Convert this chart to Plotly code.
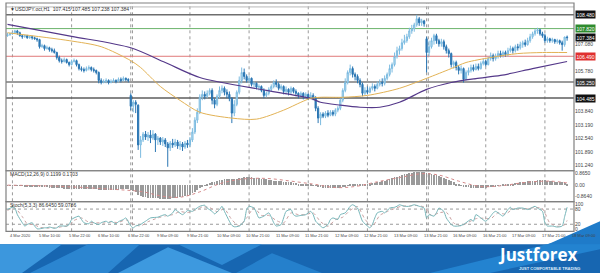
import plotly.graph_objects as go

W, H = 600, 274

# ---------------- data (USDJPY H1) ----------------
bar_index = list(range(228))

opens = [107.48,107.52,107.57,107.62,107.71,107.62,107.48,107.43,107.48,107.38,
107.43,107.38,107.33,107.29,106.95,107.00,106.86,106.90,106.81,106.76,
106.67,106.43,106.28,106.24,106.33,106.19,106.09,106.24,106.28,106.09,
105.90,105.85,105.81,105.90,105.95,105.85,105.81,105.71,105.33,105.23,
105.28,105.33,105.23,105.28,105.33,105.28,105.38,105.33,105.43,105.38,
104.61,104.09,104.28,104.14,102.23,102.47,102.75,102.61,102.71,102.56,
102.75,102.47,102.56,102.37,102.47,102.28,102.09,102.32,102.23,102.37,
102.18,102.28,102.13,102.32,102.23,102.47,102.85,103.42,103.80,104.52,
104.66,104.57,104.71,104.85,104.38,104.18,104.57,104.85,104.95,104.76,
104.66,104.47,103.76,104.18,104.76,105.33,105.71,105.52,105.33,105.43,
105.14,105.19,105.00,105.04,104.85,104.61,104.71,104.90,105.04,105.23,
105.14,104.95,105.04,104.80,104.90,104.76,104.95,104.80,104.71,104.61,
104.71,104.57,104.66,104.52,104.61,104.47,103.99,103.52,103.71,103.61,
103.76,103.66,103.80,103.71,103.90,103.99,104.38,104.85,105.23,105.71,
105.90,105.62,105.52,105.33,105.14,104.71,104.85,104.76,104.95,105.04,
104.95,105.14,105.23,105.19,105.43,105.62,105.90,106.09,106.47,106.76,
106.86,107.14,107.24,107.43,107.71,107.81,108.00,108.29,108.10,108.19,
107.33,106.67,106.95,107.24,107.48,107.24,107.09,107.19,106.95,106.76,
106.62,106.09,106.19,105.95,105.81,105.90,105.38,105.71,105.81,105.95,
105.85,106.00,105.90,106.14,106.24,106.09,106.38,106.52,106.38,106.47,
106.62,106.52,106.67,106.57,106.76,106.86,106.76,106.95,106.90,107.05,
107.14,107.05,107.24,107.43,107.57,107.71,107.76,107.57,107.48,107.24,
107.33,107.24,107.29,107.19,107.24,107.14,107.05,107.415]

highs = [107.62,107.62,107.67,107.76,107.76,107.67,107.52,107.52,107.52,107.48,
107.48,107.43,107.38,107.33,107.09,107.05,107.00,106.95,106.90,106.86,
106.71,106.52,106.38,106.43,106.38,106.24,106.33,106.38,106.33,106.14,
106.00,105.95,106.00,106.05,106.00,105.95,105.85,105.76,105.43,105.38,
105.43,105.38,105.38,105.43,105.38,105.47,105.47,105.52,105.47,105.43,
104.71,104.38,104.38,104.18,102.66,102.85,102.90,102.85,102.94,102.94,
102.80,102.66,102.61,102.61,102.56,102.37,102.42,102.52,102.52,102.47,
102.42,102.37,102.42,102.47,102.61,103.04,103.56,103.99,104.66,104.85,
104.80,104.85,104.95,104.95,104.47,104.66,105.04,105.09,105.04,104.90,
104.80,104.52,104.38,104.85,105.52,105.95,105.90,105.62,105.57,105.47,
105.28,105.23,105.14,105.09,104.95,104.80,105.00,105.14,105.33,105.38,
105.23,105.14,105.09,105.04,104.95,105.04,105.00,104.90,104.76,104.80,
104.76,104.76,104.71,104.76,104.71,104.57,104.09,103.80,103.80,103.85,
103.90,103.90,103.90,103.99,104.09,104.47,104.95,105.43,105.81,106.09,
106.00,105.71,105.62,105.43,105.23,105.00,105.04,105.04,105.19,105.14,
105.28,105.38,105.43,105.57,105.71,106.09,106.19,106.67,106.95,107.00,
107.33,107.52,107.57,107.86,108.00,108.10,108.48,108.38,108.29,108.24,
107.43,107.24,107.38,107.57,107.57,107.33,107.33,107.29,107.05,106.86,
106.67,106.28,106.28,106.05,106.05,105.95,105.81,105.95,106.09,106.09,
106.14,106.14,106.24,106.38,106.33,106.47,106.67,106.62,106.62,106.76,
106.76,106.76,106.76,106.90,107.00,106.95,107.05,107.09,107.19,107.24,
107.29,107.38,107.57,107.67,107.81,107.86,107.81,107.67,107.57,107.43,
107.38,107.38,107.33,107.33,107.29,107.24,107.43,107.485]

lows = [107.43,107.48,107.52,107.57,107.52,107.43,107.33,107.38,107.33,107.33,
107.29,107.29,107.19,106.86,106.90,106.76,106.81,106.71,106.67,106.62,
106.33,106.19,106.14,106.19,106.14,106.00,106.05,106.19,106.00,105.81,
105.76,105.71,105.76,105.81,105.76,105.71,105.62,105.19,105.14,105.19,
105.19,105.14,105.19,105.23,105.19,105.23,105.23,105.28,105.28,105.23,
103.90,103.80,103.76,101.99,101.61,102.37,102.47,102.42,102.32,102.47,
101.89,102.23,102.23,102.18,102.13,101.18,101.94,102.09,102.13,102.04,
101.99,101.94,102.04,102.09,102.13,102.37,102.75,103.28,103.71,104.38,
104.42,104.47,104.61,104.18,103.99,104.09,104.47,104.71,104.61,104.47,
104.33,103.28,103.61,104.09,104.66,105.19,105.38,105.23,105.19,105.04,
105.00,104.90,104.85,104.76,104.47,104.52,104.61,104.80,104.95,105.00,
104.85,104.85,104.66,104.66,104.61,104.66,104.71,104.57,104.47,104.52,
104.42,104.47,104.38,104.42,104.38,103.85,103.28,103.18,103.52,103.52,
103.56,103.61,103.61,103.61,103.80,103.90,104.28,104.76,105.14,105.57,
105.47,105.33,105.19,105.00,104.57,104.61,104.66,104.71,104.85,104.80,
104.90,105.04,105.04,105.09,105.33,105.52,105.71,106.00,106.38,106.57,
106.76,107.05,107.14,107.33,107.57,107.67,107.91,107.95,107.95,107.91,
105.71,106.47,106.86,107.05,107.09,106.95,106.95,106.81,106.62,106.43,
105.95,105.90,105.81,105.62,105.66,105.23,105.33,105.57,105.71,105.76,
105.81,105.81,105.85,106.05,106.00,106.05,106.28,106.24,106.28,106.38,
106.43,106.43,106.47,106.47,106.67,106.62,106.67,106.76,106.81,106.90,
106.95,107.00,107.14,107.33,107.48,107.57,107.48,107.38,107.14,107.14,
107.14,107.14,107.09,107.09,107.05,106.76,106.95,107.238]

closes = [107.52,107.57,107.62,107.71,107.62,107.48,107.43,107.48,107.38,107.43,
107.38,107.33,107.29,106.95,107.00,106.86,106.90,106.81,106.76,106.67,
106.43,106.28,106.24,106.33,106.19,106.09,106.24,106.28,106.09,105.90,
105.85,105.81,105.90,105.95,105.85,105.81,105.71,105.33,105.23,105.28,
105.33,105.23,105.28,105.33,105.28,105.38,105.33,105.43,105.38,105.33,
104.09,104.28,104.18,102.23,102.47,102.75,102.61,102.71,102.56,102.75,
102.47,102.56,102.37,102.47,102.28,102.09,102.32,102.23,102.37,102.18,
102.28,102.13,102.32,102.23,102.47,102.85,103.42,103.80,104.52,104.66,
104.57,104.71,104.85,104.38,104.18,104.57,104.85,104.95,104.76,104.66,
104.47,103.76,104.18,104.76,105.33,105.71,105.52,105.33,105.43,105.14,
105.19,105.00,105.04,104.85,104.61,104.71,104.90,105.04,105.23,105.14,
104.95,105.04,104.80,104.90,104.76,104.95,104.80,104.71,104.61,104.71,
104.57,104.66,104.52,104.61,104.47,103.99,103.52,103.71,103.61,103.76,
103.66,103.80,103.71,103.90,103.99,104.38,104.85,105.23,105.71,105.90,
105.62,105.52,105.33,105.14,104.71,104.85,104.76,104.95,105.04,104.95,
105.14,105.23,105.19,105.43,105.62,105.90,106.09,106.47,106.76,106.86,
107.14,107.24,107.43,107.71,107.81,108.00,108.29,108.10,108.19,108.05,
106.67,106.95,107.24,107.48,107.24,107.09,107.19,106.95,106.76,106.62,
106.09,106.19,105.95,105.81,105.90,105.38,105.71,105.81,105.95,105.85,
106.00,105.90,106.14,106.24,106.09,106.38,106.52,106.38,106.47,106.62,
106.52,106.67,106.57,106.76,106.86,106.76,106.95,106.90,107.05,107.14,
107.05,107.24,107.43,107.57,107.71,107.76,107.57,107.48,107.24,107.33,
107.24,107.29,107.19,107.24,107.14,107.05,107.415,107.384]

# moving averages
ma_slow_bars = [0, 26, 50, 64, 78, 105, 123, 127, 135, 143, 151, 159, 170, 180, 190, 200, 213, 227]
ma_slow_vals = [108.02, 107.45, 106.90, 106.19, 105.47, 104.85, 104.47, 104.28, 104.14, 104.04,
                104.04, 104.28, 104.90, 105.23, 105.42, 105.57, 105.90, 106.24]
ma_fast_bars = [0, 25, 38, 50, 54, 62, 70, 78, 91, 101, 112, 119, 123, 127, 136, 146, 159, 170,
                180, 186, 196, 207, 217, 227]
ma_fast_vals = [107.62, 107.24, 106.95, 106.28, 105.95, 105.04, 104.37, 103.80, 103.52, 103.47,
                103.90, 104.28, 104.47, 104.52, 104.52, 104.61, 104.95, 105.43, 105.90, 106.19,
                106.43, 106.62, 106.67, 106.67]

# horizontal levels
level_prices = [108.86, 108.48, 107.82, 106.49, 105.25, 104.485]
level_colors = ['#b8b8b8', '#6e6e6e', '#6cb46c', '#e07a7a', '#9c9c9c', '#5e5e5e']
level_widths = [1, 1.5, 1, 1, 2, 1.5]
box_prices = [108.48, 107.82, 107.384, 106.49, 105.25, 104.485]
box_texts = ['108.480', '107.820', '107.384', '106.490', '105.250', '104.485']
box_colors = ['#111111', '#2e8b2e', '#111111', '#e03030', '#333333', '#111111']

price_ticks = [107.08, 105.78, 103.84, 103.19, 102.54, 101.89, 101.24]
price_tick_text = ['107.080', '105.780', '103.840', '103.190', '102.540', '101.890', '101.240']

# MACD(12,26,9)
macd_hist = [-0.02,-0.03,-0.03,-0.02,-0.02,-0.03,-0.04,-0.05,-0.05,-0.06,
-0.07,-0.09,-0.10,-0.12,-0.13,-0.14,-0.15,-0.16,-0.17,-0.18,
-0.19,-0.21,-0.23,-0.24,-0.25,-0.26,-0.26,-0.27,-0.27,-0.28,
-0.29,-0.29,-0.29,-0.29,-0.29,-0.30,-0.30,-0.31,-0.32,-0.32,
-0.32,-0.32,-0.32,-0.31,-0.31,-0.31,-0.30,-0.30,-0.30,-0.30,
-0.38,-0.45,-0.52,-0.68,-0.78,-0.84,-0.88,-0.91,-0.93,-0.94,
-0.96,-0.97,-0.98,-0.98,-0.99,-1.00,-0.99,-0.97,-0.95,-0.93,
-0.90,-0.86,-0.82,-0.77,-0.70,-0.60,-0.48,-0.35,-0.22,-0.10,
-0.01,0.08,0.15,0.22,0.27,0.32,0.37,0.41,0.44,0.46,
0.48,0.47,0.48,0.50,0.53,0.57,0.59,0.60,0.60,0.59,
0.58,0.56,0.54,0.51,0.48,0.45,0.42,0.39,0.36,0.34,
0.32,0.30,0.28,0.26,0.24,0.22,0.20,0.17,0.14,0.11,
0.08,0.06,0.04,0.03,0.02,-0.03,-0.10,-0.15,-0.18,-0.20,
-0.22,-0.23,-0.23,-0.22,-0.20,-0.16,-0.11,-0.05,0.02,0.08,
0.12,0.13,0.13,0.12,0.10,0.11,0.12,0.14,0.16,0.19,
0.22,0.26,0.30,0.35,0.40,0.46,0.52,0.59,0.66,0.72,
0.78,0.83,0.87,0.91,0.94,0.97,1.00,1.01,1.01,1.00,
0.95,0.90,0.85,0.80,0.74,0.68,0.62,0.55,0.48,0.40,
0.30,0.22,0.14,0.06,-0.01,-0.08,-0.12,-0.15,-0.17,-0.18,
-0.19,-0.19,-0.18,-0.17,-0.16,-0.14,-0.11,-0.08,-0.05,-0.02,
0.01,0.04,0.06,0.08,0.11,0.14,0.17,0.20,0.23,0.26,
0.28,0.30,0.32,0.34,0.36,0.37,0.38,0.38,0.37,0.35,
0.33,0.31,0.29,0.27,0.25,0.22,0.18,0.12]
macd_sig_bars = [0, 20, 40, 55, 62, 70, 78, 86, 95, 105, 115, 125, 133, 141, 150, 160, 168, 175,
                 183, 192, 200, 210, 220, 227]
macd_sig_vals = [0.0, -0.08, -0.28, -0.5, -0.8, -0.9, -0.5, 0.1, 0.45, 0.5, 0.3, 0.05, -0.18, -0.1,
                 0.25, 0.6, 0.85, 0.75, 0.3, -0.1, -0.05, 0.2, 0.3, 0.17]
macd_ticks = [0.865, 0.0, -0.864]
macd_tick_text = ['0.8650', '0.00', '-0.8640']

# Stochastic(5,3,3)
stoch_main_bars = [0,2,3,4,6,7,8,10,11,12,13,15,16,17,19,20,21,23,24,25,
26,27,29,30,31,33,34,35,37,38,40,41,42,44,45,47,48,50,51,52,
54,55,56,58,61,62,64,65,67,68,69,71,72,73,75,76,78,80,81,83,
84,86,87,88,90,91,92,94,96,97,98,100,101,102,104,106,108,109,111,112,
113,115,116,117,119,121,123,124,125,127,128,130,131,132,134,135,137,139,140,142,
143,144,146,147,148,149,150,152,153,155,157,158,159,161,163,165,167,169,170,171,
173,174,175,177,178,180,181,183,185,186,188,189,190,192,194,196,197,198,200,201,
203,204,205,207,209,211,213,214,215,217,218,219,221,223,225,226,227]
stoch_main_vals = [78,87,84,58,26,13,19,26,13,2,2,6,6,9,4,6,13,13,13,19,
39,45,52,39,26,22,32,26,19,26,32,26,32,22,30,39,45,13,6,13,
19,26,32,45,48,52,58,52,65,78,71,58,65,74,71,78,91,95,84,71,
61,78,91,71,32,16,10,13,32,78,91,84,65,45,52,65,26,13,19,45,
71,78,58,52,55,58,71,58,32,13,6,19,39,45,39,58,65,91,97,84,
58,32,13,6,19,45,65,71,65,84,87,91,97,91,91,97,91,84,45,58,
52,65,84,71,45,19,13,13,19,26,39,32,58,45,32,52,65,71,58,52,
78,87,78,84,84,78,87,91,84,71,26,13,13,9,13,50,87]
stoch_sig_bars = [0,3,6,8,11,13,16,19,22,25,27,30,33,36,39,42,45,48,51,54,
57,61,64,67,70,73,76,79,82,85,88,91,94,97,100,103,106,109,112,115,
118,121,124,127,130,133,136,139,142,145,148,151,154,157,160,163,166,169,172,175,
178,181,184,187,190,193,196,199,202,205,208,211,214,217,220,223,226,227]
stoch_sig_vals = [75,84,50,22,18,8,5,6,10,15,35,45,28,26,25,29,27,38,20,13,
30,45,53,58,70,66,75,88,86,70,80,38,14,45,85,55,55,35,25,65,
58,58,65,30,12,38,48,75,90,40,12,55,70,82,92,92,94,88,55,65,
68,25,14,28,42,44,42,65,60,80,82,82,86,82,25,12,18,35]
stoch_ticks = [100, 80, 20, 0]
stoch_tick_text = ['100', '80', '20', '0']

# time axis labels
time_label_bars = [2,14,26,38,50,62,74,86,98,110,122,134,146,158,170,182,194,206,218,230]
time_labels = ['4 Mar 2020','5 Mar 10:00','5 Mar 22:00','6 Mar 10:00','6 Mar 22:00','9 Mar 09:00',
               '9 Mar 21:00','10 Mar 09:00','10 Mar 21:00','11 Mar 09:00','11 Mar 21:00','12 Mar 09:00',
               '12 Mar 21:00','13 Mar 09:00','13 Mar 21:00','16 Mar 09:00','16 Mar 21:00','17 Mar 09:00',
               '17 Mar 21:00','18 Mar 09:00']
grid_bars = [2, 26, 50, 74, 98, 122, 146, 170, 194, 218]
week_sep_bars = [50.7, 170.7]

# ---------------- geometry helpers ----------------
def py(p):
    return 1 - p / H

def px(p):
    return p / W

X0, X1 = px(6), px(574)
MAIN = [py(171), py(2)]
MACD = [py(202), py(171)]
STO = [py(232), py(202)]
FONT = 'Liberation Sans, Arial, sans-serif'

fig = go.Figure()

fig.add_trace(go.Candlestick(
    x=bar_index, open=opens, high=highs, low=lows, close=closes,
    increasing=dict(line=dict(color='#7cbbe0', width=1), fillcolor='#c6e6f6'),
    decreasing=dict(line=dict(color='#2a76b3', width=1), fillcolor='#2a76b3'),
    whiskerwidth=0, xaxis='x', yaxis='y', hoverinfo='skip', showlegend=False))

fig.add_trace(go.Scatter(x=ma_slow_bars, y=ma_slow_vals, mode='lines', xaxis='x', yaxis='y',
                         line=dict(color='#55398a', width=1.2, shape='spline', smoothing=0.8),
                         hoverinfo='skip'))
fig.add_trace(go.Scatter(x=ma_fast_bars, y=ma_fast_vals, mode='lines', xaxis='x', yaxis='y',
                         line=dict(color='#e2b255', width=1.0, shape='spline', smoothing=0.8),
                         hoverinfo='skip'))

fig.add_trace(go.Bar(x=bar_index, y=macd_hist, xaxis='x', yaxis='y2', width=0.32,
                     marker=dict(color='#9a9a9a', line=dict(width=0)), hoverinfo='skip'))
fig.add_trace(go.Scatter(x=macd_sig_bars, y=macd_sig_vals, mode='lines', xaxis='x', yaxis='y2',
                         line=dict(color='#d48a8a', width=1, dash='dot', shape='spline'),
                         hoverinfo='skip'))

fig.add_trace(go.Scatter(x=stoch_sig_bars, y=stoch_sig_vals, mode='lines', xaxis='x', yaxis='y3',
                         line=dict(color='#c9a0a0', width=1, dash='dot', shape='spline', smoothing=0.6),
                         hoverinfo='skip'))
fig.add_trace(go.Scatter(x=stoch_main_bars, y=stoch_main_vals, mode='lines', xaxis='x', yaxis='y3',
                         line=dict(color='#76b5b8', width=1, shape='spline', smoothing=0.6),
                         hoverinfo='skip'))

shapes = []
# vertical grid
for b in grid_bars + week_sep_bars:
    shapes.append(dict(type='line', xref='x', yref='paper', x0=b, x1=b, y0=STO[0], y1=MAIN[1],
                       line=dict(color='#9a9a9a', width=1, dash='dot'), layer='below'))
# horizontal levels
for p, c, w in zip(level_prices, level_colors, level_widths):
    shapes.append(dict(type='line', xref='paper', yref='y', x0=X0, x1=X1, y0=p, y1=p,
                       line=dict(color=c, width=w), layer='below'))
# stoch levels
for v in [80, 20]:
    shapes.append(dict(type='line', xref='paper', yref='y3', x0=X0, x1=X1, y0=v, y1=v,
                       line=dict(color='#9a9a9a', width=1, dash='dot'), layer='below'))
# panel frames
for d in (MAIN, MACD, STO):
    shapes.append(dict(type='rect', xref='paper', yref='paper', x0=X0, x1=X1, y0=d[0], y1=d[1],
                       line=dict(color='#808080', width=1.2), fillcolor='rgba(0,0,0,0)'))

# banner
def poly(pts, color):
    path = 'M ' + ' L '.join(f'{px(a):.4f},{py(b):.4f}' for a, b in pts) + ' Z'
    return dict(type='path', xref='paper', yref='paper', path=path, fillcolor=color,
                line=dict(width=0), layer='above')

shapes.append(poly([(0, 245), (600, 245), (600, 274), (0, 274)], '#1766b1'))
shapes.append(poly([(0, 245), (62, 245), (22, 274), (0, 274)], '#3c97dd'))
shapes.append(poly([(30, 274), (88, 245), (140, 245), (108, 274)], '#2b85d0'))
shapes.append(poly([(118, 274), (168, 248), (232, 274)], '#3d99df'))
shapes.append(poly([(178, 245), (262, 245), (222, 266)], '#2e89d3'))
shapes.append(poly([(236, 274), (272, 254), (322, 274)], '#2580cc'))
shapes.append(poly([(430, 274), (600, 232), (600, 250), (490, 274)], '#2383d0'))
shapes.append(poly([(548, 245), (600, 222), (600, 245)], '#1f7bc9'))

annotations = []
for b, t in zip(time_label_bars, time_labels):
    annotations.append(dict(x=b - 2, y=py(236.5), xref='x', yref='paper', text=t, showarrow=False,
                            xanchor='left', yanchor='middle', font=dict(size=4, color='#444', family=FONT)))
for p, t, c in zip(box_prices, box_texts, box_colors):
    annotations.append(dict(x=px(575), y=p, xref='paper', yref='y', text=t, showarrow=False,
                            xanchor='left', yanchor='middle', bgcolor=c, borderpad=0.5,
                            font=dict(size=5, color='white', family=FONT)))
annotations.append(dict(x=px(8), y=py(8.5), xref='paper', yref='paper', showarrow=False,
                        text='▼USDJPY.oct,H1  107.415 107.485 107.238 107.384',
                        xanchor='left', yanchor='middle', font=dict(size=5, color='#333', family=FONT)))
annotations.append(dict(x=px(8), y=py(174.5), xref='paper', yref='paper', showarrow=False,
                        text='MACD(12,26,9) 0.1199 0.1703',
                        xanchor='left', yanchor='middle', font=dict(size=5, color='#333', family=FONT)))
annotations.append(dict(x=px(8), y=py(205.5), xref='paper', yref='paper', showarrow=False,
                        text='Stoch(5,3,3) 86.6450 59.0786',
                        xanchor='left', yanchor='middle', font=dict(size=5, color='#333', family=FONT)))
annotations.append(dict(x=px(538), y=py(255), xref='paper', yref='paper', showarrow=False,
                        text='<b>Justforex</b>', xanchor='center', yanchor='middle',
                        font=dict(size=17, color='white', family='Open Sans, sans-serif')))
annotations.append(dict(x=px(582), y=py(269.5), xref='paper', yref='paper', showarrow=False,
                        text='<b>JUST COMFORTABLE TRADING</b>', xanchor='right', yanchor='middle',
                        font=dict(size=4, color='#dceaf8', family=FONT)))

tickfont = dict(size=5, color='#444', family=FONT)
fig.update_layout(
    width=W, height=H, margin=dict(l=0, r=0, t=0, b=0),
    paper_bgcolor='white', plot_bgcolor='white', showlegend=False, bargap=0,
    xaxis=dict(domain=[X0, X1], range=[-0.61, 229.8], showticklabels=False, showgrid=False,
               zeroline=False, rangeslider=dict(visible=False), anchor='y3', fixedrange=True),
    yaxis=dict(domain=MAIN, range=[100.99, 109.05], side='right', anchor='x', tickvals=price_ticks,
               ticktext=price_tick_text, tickfont=tickfont, showgrid=False, zeroline=False, ticks=''),
    yaxis2=dict(domain=MACD, range=[-1.221, 1.073], side='right', anchor='x', tickvals=macd_ticks,
                ticktext=macd_tick_text, tickfont=tickfont, showgrid=False, zeroline=False, ticks=''),
    yaxis3=dict(domain=STO, range=[-7.8, 109.8], side='right', anchor='x', tickvals=stoch_ticks,
                ticktext=stoch_tick_text, tickfont=tickfont, showgrid=False, zeroline=False, ticks=''),
    shapes=shapes, annotations=annotations,
)

fig.write_html('out.html')
